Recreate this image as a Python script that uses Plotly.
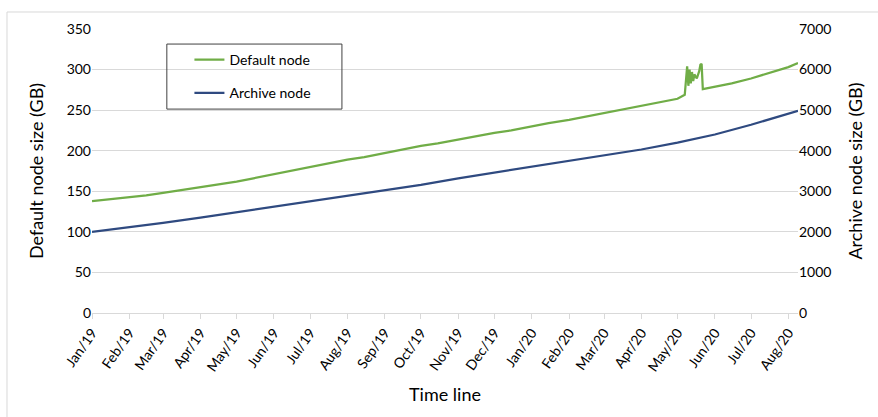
import plotly.graph_objects as go

# Default node size (GB), left axis
default_dates = [
    "2019-01-01", "2019-01-15", "2019-02-01", "2019-02-15", "2019-03-01", "2019-03-15",
    "2019-04-01", "2019-04-15", "2019-05-01", "2019-05-15", "2019-06-01", "2019-06-15",
    "2019-07-01", "2019-07-15", "2019-08-01", "2019-08-15", "2019-09-01", "2019-09-15",
    "2019-10-01", "2019-10-15", "2019-11-01", "2019-11-15", "2019-12-01", "2019-12-15",
    "2020-01-01", "2020-01-15", "2020-02-01", "2020-02-15", "2020-03-01", "2020-03-15",
    "2020-04-01", "2020-04-15", "2020-05-01", "2020-05-07", "2020-05-08", "2020-05-09",
    "2020-05-10", "2020-05-11", "2020-05-12", "2020-05-13", "2020-05-14", "2020-05-15",
    "2020-05-17", "2020-05-19", "2020-05-20", "2020-05-21", "2020-05-22", "2020-06-01",
    "2020-06-15", "2020-07-01", "2020-07-15", "2020-08-01", "2020-08-09",
]
default_size = [
    138, 140, 143, 145, 148, 151,
    155, 158, 162, 166, 171, 175,
    180, 184, 189, 192, 197, 201,
    206, 209, 214, 218, 222, 225,
    230, 234, 238, 242, 246, 250,
    255, 259, 264, 269, 290, 304,
    280, 300, 283, 297, 286, 294,
    289, 298, 306, 307, 276, 279,
    283, 289, 295, 303, 308,
]

# Archive node size (GB), right axis
archive_dates = [
    "2019-01-01", "2019-02-01", "2019-03-01", "2019-04-01", "2019-05-01", "2019-06-01",
    "2019-07-01", "2019-08-01", "2019-09-01", "2019-10-01", "2019-11-01", "2019-12-01",
    "2020-01-01", "2020-02-01", "2020-03-01", "2020-04-01", "2020-05-01", "2020-06-01",
    "2020-07-01", "2020-08-01", "2020-08-09",
]
archive_size = [
    2000, 2110, 2220, 2350, 2480, 2620,
    2750, 2890, 3030, 3160, 3320, 3460,
    3600, 3740, 3880, 4030, 4200, 4400,
    4640, 4900, 4985,
]

# Month ticks along the time line
tick_dates = [
    "2019-01-01", "2019-02-01", "2019-03-01", "2019-04-01", "2019-05-01", "2019-06-01",
    "2019-07-01", "2019-08-01", "2019-09-01", "2019-10-01", "2019-11-01", "2019-12-01",
    "2020-01-01", "2020-02-01", "2020-03-01", "2020-04-01", "2020-05-01", "2020-06-01",
    "2020-07-01", "2020-08-01",
]
tick_labels = [
    "Jan/19", "Feb/19", "Mar/19", "Apr/19", "May/19", "Jun/19",
    "Jul/19", "Aug/19", "Sep/19", "Oct/19", "Nov/19", "Dec/19",
    "Jan/20", "Feb/20", "Mar/20", "Apr/20", "May/20", "Jun/20",
    "Jul/20", "Aug/20",
]

FONT = "Lato"
GREEN = "#70AD47"
BLUE = "#2F4A80"

fig = go.Figure()
fig.add_trace(go.Scatter(
    x=default_dates, y=default_size, name="Default node", mode="lines",
    line=dict(color=GREEN, width=2.25), legendgroup="a",
))
fig.add_trace(go.Scatter(
    x=archive_dates, y=archive_size, name="Archive node", mode="lines",
    line=dict(color=BLUE, width=2.25), yaxis="y2", legendgroup="b",
))

fig.update_layout(
    width=878, height=417,
    margin=dict(l=92, r=80, t=29, b=104),
    paper_bgcolor="white", plot_bgcolor="white",
    font=dict(family=FONT, size=14, color="#000000"),
    showlegend=True,
    legend=dict(
        x=0.138, y=0.947, xanchor="left", yanchor="top",
        bgcolor="rgba(0,0,0,0)", borderwidth=0,
        font=dict(family=FONT, size=14, color="#000000"),
        tracegroupgap=12, itemwidth=30,
    ),
    xaxis=dict(
        type="date",
        range=["2019-01-01", "2020-08-09"],
        tickmode="array", tickvals=tick_dates, ticktext=tick_labels,
        tickangle=-55, ticks="outside", ticklen=5, tickcolor="#D9D9D9",
        showline=True, linecolor="#D9D9D9", linewidth=1,
        showgrid=False, zeroline=False,
        tickfont=dict(family=FONT, size=14),
        title=dict(text="Time line", font=dict(family=FONT, size=18), standoff=14),
    ),
    yaxis=dict(
        range=[0, 350], dtick=50, showgrid=True, gridcolor="#D9D9D9", gridwidth=1,
        zeroline=False, showline=False, ticks="",
        tickfont=dict(family=FONT, size=14),
        title=dict(text="Default node size (GB)", font=dict(family=FONT, size=18), standoff=18),
    ),
    yaxis2=dict(
        range=[0, 7000], dtick=1000, overlaying="y", side="right",
        showgrid=False, zeroline=False, showline=False, ticks="",
        tickfont=dict(family=FONT, size=14),
        title=dict(text="Archive node size (GB)", font=dict(family=FONT, size=18), standoff=18),
    ),
    shapes=[
        # legend frame
        dict(type="rect", xref="paper", yref="paper",
             x0=0.106, x1=0.354, y0=0.718, y1=0.947,
             line=dict(color="#404040", width=1), fillcolor="rgba(0,0,0,0)", layer="above"),
        # outer chart frame
        dict(type="rect", xref="paper", yref="paper",
             x0=-0.1204, x1=1.3, y0=-0.5, y1=1.0599,
             line=dict(color="#D9D9D9", width=1), fillcolor="rgba(0,0,0,0)", layer="below"),
    ],
)

fig.write_html("out.html")
